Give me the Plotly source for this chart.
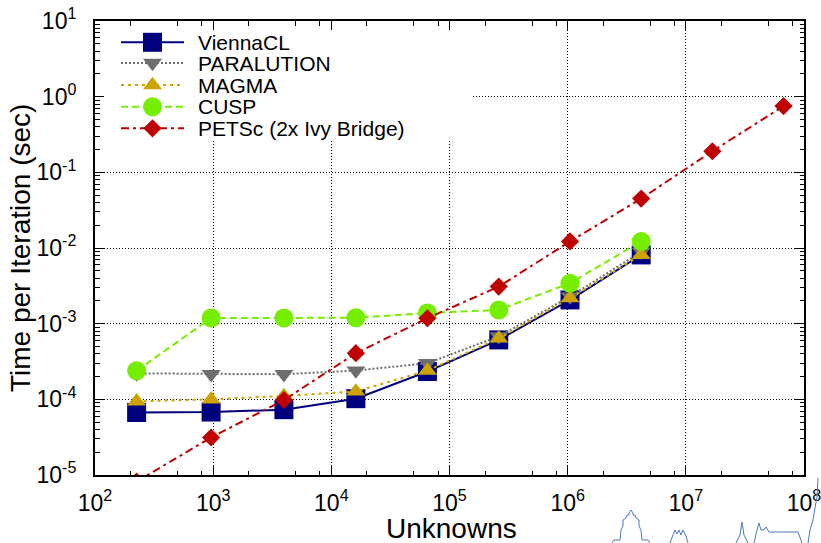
import plotly.graph_objects as go

# ---------------- data ----------------
unknowns = [225, 961, 3969, 16129, 65025, 261121, 1046529, 4190209]
unknowns_petsc = [225, 961, 3969, 16129, 65025, 261121, 1046529, 4190209, 16769025, 67092481]

viennacl = [6.7e-5, 6.8e-5, 7.3e-5, 1.02e-4, 2.33e-4, 6.1e-4, 2.06e-3, 8.1e-3]
paralution = [2.2e-4, 2.15e-4, 2.15e-4, 2.4e-4, 3.0e-4, 6.8e-4, 2.28e-3, 8.9e-3]
magma = [9.4e-5, 1.0e-4, 1.11e-4, 1.27e-4, 2.4e-4, 6.4e-4, 2.17e-3, 8.1e-3]
cusp = [2.38e-4, 1.19e-3, 1.19e-3, 1.2e-3, 1.38e-3, 1.52e-3, 3.43e-3, 1.22e-2]
petsc = [8.2e-6, 3.13e-5, 9.8e-5, 4.07e-4, 1.18e-3, 3.09e-3, 1.22e-2, 4.5e-2, 0.19, 0.75]

names = ["ViennaCL", "PARALUTION", "MAGMA", "CUSP", "PETSc (2x Ivy Bridge)"]

x_exponents = [2, 3, 4, 5, 6, 7, 8]
y_exponents = [-5, -4, -3, -2, -1, 0, 1]
x_tickvals = [10.0 ** e for e in x_exponents]
y_tickvals = [10.0 ** e for e in y_exponents]
x_ticktext = [f"10<sup>{e}</sup>" for e in x_exponents]
y_ticktext = [f"10<sup>{e}</sup>" for e in y_exponents]
x_minor = [m * 10 ** k for k in range(2, 8) for m in (2, 5, 8)]

# ---------------- styles ----------------
FONT = "Liberation Sans, Arial, Helvetica, sans-serif"
styles = [
    dict(color="#00007f", dash="solid", symbol="square", size=19),
    dict(color="#6e6e6e", dash="2px,2px", symbol="triangle-down", size=16.5),
    dict(color="#cca300", dash="3px,4px", symbol="triangle-up", size=16.5),
    dict(color="#76ee00", dash="7px,4px", symbol="circle", size=19),
    dict(color="#c00000", dash="8px,4px,3px,4px", symbol="diamond", size=14),
]
series = [
    (unknowns, viennacl),
    (unknowns, paralution),
    (unknowns, magma),
    (unknowns, cusp),
    (unknowns_petsc, petsc),
]

fig = go.Figure()

for (xs, ys), st, nm in zip(series, styles, names):
    fig.add_trace(go.Scatter(
        x=xs, y=ys, name=nm, mode="lines+markers", showlegend=False,
        line=dict(color=st["color"], width=2, dash=st["dash"]),
        marker=dict(symbol=st["symbol"], size=st["size"], color=st["color"],
                    line=dict(width=0)),
    ))

# ---------------- custom key (overlay pixel axes) ----------------
PL, PR, PT, PB = 95, 804, 21, 475
key_rows = [42.3, 63.0, 85.0, 106.8, 128.3]
key_x0, key_x1, key_xm, key_text = 121, 184, 152.5, 196

# white key background hiding the gridlines
fig.add_trace(go.Scatter(
    x=[PL + 1.5, 472, 472, PL + 1.5, PL + 1.5], y=[PT + 1.5, PT + 1.5, 141, 141, PT + 1.5],
    xaxis="x2", yaxis="y2", fill="toself", fillcolor="white",
    mode="none", showlegend=False, hoverinfo="skip"))

for ry, st, nm in zip(key_rows, styles, names):
    fig.add_trace(go.Scatter(
        x=[key_x0, key_x1], y=[ry, ry], xaxis="x2", yaxis="y2", mode="lines",
        line=dict(color=st["color"], width=2, dash=st["dash"]),
        showlegend=False, hoverinfo="skip"))
    fig.add_trace(go.Scatter(
        x=[key_xm], y=[ry], xaxis="x2", yaxis="y2", mode="markers",
        marker=dict(symbol=st["symbol"], size=st["size"], color=st["color"],
                    line=dict(width=0)),
        showlegend=False, hoverinfo="skip"))
    fig.add_annotation(x=key_text, y=ry, xref="x2", yref="y2", text=nm,
                       showarrow=False, xanchor="left", yanchor="middle",
                       font=dict(family=FONT, size=21, color="black"))

axis_common = dict(
    type="log", showline=True, linecolor="black", linewidth=2, mirror="allticks",
    ticks="inside", ticklen=9, tickwidth=1.3, tickcolor="black",
    showgrid=True, gridcolor="black", gridwidth=1, griddash="1px,2px",
    zeroline=False, tickmode="array", ticklabeloverflow="allow", automargin=False,
    tickfont=dict(family=FONT, size=23, color="black"),
)

fig.update_layout(
    width=821, height=543,
    margin=dict(l=PL, r=821 - PR, t=PT, b=543 - PB, autoexpand=False),
    paper_bgcolor="white", plot_bgcolor="white",
    font=dict(family=FONT, color="black"),
    xaxis=dict(range=[2, 8], tickvals=x_tickvals, ticktext=x_ticktext, ticklabelstandoff=6,
               minor=dict(tickmode="array", tickvals=x_minor, ticks="inside",
                          ticklen=4.5, tickcolor="black", showgrid=False),
               **axis_common),
    yaxis=dict(range=[-5, 1], tickvals=y_tickvals, ticktext=y_ticktext, ticklabelstandoff=12,
               minor=dict(dtick="D1", ticks="inside", ticklen=4.5,
                          tickcolor="black", showgrid=False),
               **axis_common),
    xaxis2=dict(overlaying="x", range=[PL, PR], visible=False, anchor="y2"),
    yaxis2=dict(overlaying="y", range=[PB, PT], visible=False, anchor="x2"),
)

# axis titles
fig.add_annotation(text="Unknowns", xref="paper", yref="paper",
                   x=(451.5 - PL) / (PR - PL), y=(PB - 528) / (PB - PT),
                   showarrow=False, xanchor="center", yanchor="middle",
                   font=dict(family=FONT, size=28, color="black"))
fig.add_annotation(text="Time per Iteration (sec)", xref="paper", yref="paper",
                   x=(20 - PL) / (PR - PL), y=(PB - 248) / (PB - PT),
                   textangle=-90, showarrow=False, xanchor="center", yanchor="middle",
                   font=dict(family=FONT, size=28, color="black"))

# skyline logo decoration (bottom right), page pixel outline
sky = [
    [(612, 543), (614, 540), (620, 540), (621, 530), (623, 526), (623, 520), (626, 518),
     (627, 515), (629, 515), (629, 513), (631, 510), (633, 513), (633, 515), (635, 515),
     (636, 518), (639, 520), (639, 526), (641, 530), (642, 540), (648, 540), (650, 543)],
    [(670, 543), (673, 535), (675, 530), (677, 534), (679, 530), (681, 535), (683, 530),
     (686, 536), (688, 543)],
    [(736, 543), (740, 535), (742, 522), (744, 535), (748, 543)],
    [(754, 543), (757, 530), (759, 523), (761, 530), (764, 530), (766, 527), (769, 532),
     (798, 532), (802, 543)],
    [(808, 543), (810, 530), (813, 520), (816, 502), (817, 497), (818, 478)],
]
for poly in sky:
    p = " ".join(("M" if i == 0 else "L") + f"{(px - PL) / (PR - PL):.5f},{(PB - py) / (PB - PT):.5f}"
                 for i, (px, py) in enumerate(poly))
    fig.add_shape(type="path", xref="paper", yref="paper", path=p,
                  line=dict(color="#4a78c0", width=1), layer="above")

fig.write_html("out.html")
